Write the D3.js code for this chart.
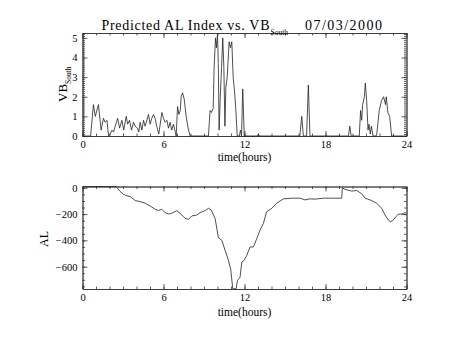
<!DOCTYPE html>
<html>
<head>
<meta charset="utf-8">
<script src="https://cdn.jsdelivr.net/npm/d3@7"></script>
<style>
  body { margin: 0; background: #fff; }
  svg { display: block; }
  text { font-family: "Liberation Serif", "DejaVu Serif", serif; fill: #000; }
</style>
</head>
<body>
<svg id="chart" width="454" height="341"></svg>
<script>
// Time axis ticks (hours)
const hourTicks = [0, 6, 12, 18, 24];
const hourMinor = d3.range(0, 25, 1);

// Southward IMF driver, VB_South (mV/m)
const vbTime = [0, 0.6, 0.81, 0.95, 1.18, 1.38, 1.55, 1.68, 1.81, 1.93, 2.05, 2.18, 2.3, 2.42, 2.6, 2.75,
  2.92, 3.05, 3.24, 3.34, 3.48, 3.63, 3.78, 3.9, 4.07, 4.17, 4.27, 4.4, 4.52, 4.64, 4.89, 5.01, 5.13,
  5.26, 5.38, 5.5, 5.65, 5.88, 6.0, 6.12, 6.25, 6.37, 6.49, 6.61, 6.74, 6.94, 7.04, 7.14, 7.24, 7.31,
  7.41, 7.53, 7.68, 7.82, 7.97, 9.33, 9.45, 9.55, 9.68, 9.75, 9.85, 9.92, 10.0, 10.06, 10.12, 10.2,
  10.3, 10.39, 10.47, 10.55, 10.62, 10.72, 10.86, 10.96, 11.06, 11.16, 11.26, 11.36, 11.46, 11.62,
  11.7, 11.78, 11.87, 11.98, 12.95, 13.03, 13.1, 16.1, 16.24, 16.36, 16.6, 16.73, 16.85, 19.7, 19.8,
  19.9, 20.5, 20.6, 20.68, 20.75, 20.88, 20.95, 21.05, 21.15, 21.22, 21.32, 21.4, 21.52, 21.75, 21.8,
  21.98, 22.15, 22.3, 22.45, 22.5, 22.62, 22.75, 22.9, 24];
const vbValue = [0, 0, 1.6, 1.0, 1.6, 0.3, 0.9, 0.7, 0.8, 0, 0.1, 0.3, 0.2, 0.5, 0.9, 0.4,
  0.8, 0.3, 1.0, 0.6, 0.8, 0.3, 0.7, 0.5, 0.4, 0.2, 0.7, 0.3, 0.8, 0.5, 1.1, 0.6, 0.9,
  1.1, 0.9, 0.5, 0.1, 1.2, 0.9, 0.7, 0.8, 0.4, 0.7, 0.3, 0.6, 0, 1.5, 1.1, 1.3, 2.0,
  2.2, 1.9, 1.0, 0.4, 0, 0, 1.3, 1.2, 1.4, 3.5, 5.0, 4.5, 5.2, 3.7, 0.3, 1.9,
  3.5, 5.0, 3.5, 0.5, 2.5, 3.0, 4.8, 4.5, 4.8, 3.0, 2.3, 1.3, 0, 0,
  0.3, 0, 2.4, 0, 0, 0.1, 0, 0, 1.0, 0, 0, 2.6, 0, 0, 0.5,
  0, 0, 1.3, 0.8, 1.6, 2.0, 2.7, 1.8, 0.3, 0.6, 0.1, 0.5, 0, 0, 0.1,
  1.3, 1.8, 2.0, 1.6, 2.0, 1.2, 1.0, 0, 0];
const vbTicks = [0, 1, 2, 3, 4, 5];

// Predicted AL index (nT)
const alTime = [0, 2.49, 2.79, 3.05, 3.29, 3.53, 3.9, 4.27, 4.64, 5.01, 5.38, 5.63, 5.87, 6.12, 6.37,
  6.61, 6.99, 7.36, 7.6, 7.85, 8.1, 8.47, 8.71, 9.08, 9.33, 9.53, 9.82, 10.07, 10.32, 10.56, 10.81,
  10.98, 11.13, 11.38, 11.48, 11.67, 11.8, 11.97, 12.17, 12.41, 12.66, 12.91, 13.15, 13.4, 13.64,
  14.02, 14.39, 14.88, 15.5, 16.12, 16.48, 16.86, 17.23, 17.84, 18.58, 19.2, 19.25, 19.45, 19.94,
  20.31, 20.68, 20.93, 21.3, 21.79, 22.16, 22.41, 22.65, 22.83, 23.02, 23.22, 23.39, 23.64, 23.89, 24];
const alValue = [10, 10, -28, -50, -61, -66, -97, -105, -117, -138, -163, -173, -163, -189, -199,
  -194, -173, -207, -232, -240, -214, -207, -189, -173, -156, -168, -232, -380, -399, -475, -552,
  -620, -768, -768, -706, -680, -565, -552, -514, -450, -450, -386, -322, -271, -182,
  -156, -117, -84, -79, -79, -92, -84, -86, -79, -79, -79, 0, -12, -25,
  -20, -45, -79, -92, -117, -156, -207, -245, -258, -245, -220, -200, -199, -189, -194];
const alTicks = [0, -200, -400, -600];
const alMinor = d3.range(0, -801, -50);

const svg = d3.select("#chart");
const left = 82.5, right = 406.5;

const x = d3.scaleLinear().domain([0, 24]).range([left, right]);

// Framed panel: ticks pointing inward on all four sides
function frame(g, xs, ys, yMajor, yMinor, top, bottom) {
  const major = 5, minor = 2.5;
  g.append("g").attr("transform", `translate(0,${bottom})`)
    .call(d3.axisBottom(xs).tickValues(hourMinor).tickSize(-minor).tickSizeOuter(0).tickFormat(""));
  g.append("g").attr("transform", `translate(0,${bottom})`)
    .call(d3.axisBottom(xs).tickValues(hourTicks).tickSize(-major).tickSizeOuter(0).tickPadding(5).tickFormat(d3.format("d")));
  g.append("g").attr("transform", `translate(0,${top})`)
    .call(d3.axisTop(xs).tickValues(hourMinor).tickSize(-minor).tickSizeOuter(0).tickFormat(""));
  g.append("g").attr("transform", `translate(0,${top})`)
    .call(d3.axisTop(xs).tickValues(hourTicks).tickSize(-major).tickSizeOuter(0).tickFormat(""));
  g.append("g").attr("transform", `translate(${left},0)`)
    .call(d3.axisLeft(ys).tickValues(yMinor).tickSize(-minor).tickSizeOuter(0).tickFormat(""));
  g.append("g").attr("transform", `translate(${left},0)`)
    .call(d3.axisLeft(ys).tickValues(yMajor).tickSize(-major).tickSizeOuter(0).tickPadding(5).tickFormat(d3.format("d")));
  g.append("g").attr("transform", `translate(${right},0)`)
    .call(d3.axisRight(ys).tickValues(yMinor).tickSize(-minor).tickSizeOuter(0).tickFormat(""));
  g.append("g").attr("transform", `translate(${right},0)`)
    .call(d3.axisRight(ys).tickValues(yMajor).tickSize(-major).tickSizeOuter(0).tickFormat(""));
  g.selectAll(".domain, .tick line").attr("stroke", "#333").attr("stroke-width", 0.8);
  g.selectAll(".tick text").attr("font-size", 10.5).attr("fill", "#000");
  g.selectAll("g").attr("font-family", null);
}

// ---- Top panel: VB_South
const top1 = 33, bot1 = 136;
const y1 = d3.scaleLinear().domain([0, 5.25]).range([bot1, top1]);
const g1 = svg.append("g");
frame(g1, x, y1, vbTicks, d3.range(0, 5.21, 0.1), top1, bot1);
g1.append("path")
  .datum(d3.range(vbTime.length))
  .attr("fill", "none").attr("stroke", "#222").attr("stroke-width", 0.8)
  .attr("d", d3.line().x(i => x(vbTime[i])).y(i => y1(vbValue[i])));

// ---- Bottom panel: AL
const top2 = 186.5, bot2 = 289;
const y2 = d3.scaleLinear().domain([-770, 10]).range([bot2, top2]);
const g2 = svg.append("g");
frame(g2, x, y2, alTicks, alMinor.filter(v => v >= -770), top2, bot2);
g2.append("path")
  .datum(d3.range(alTime.length))
  .attr("fill", "none").attr("stroke", "#222").attr("stroke-width", 0.8)
  .attr("d", d3.line().x(i => x(alTime[i])).y(i => y2(alValue[i])));

// ---- Titles and axis labels
svg.append("text").attr("x", 101.5).attr("y", 29.5).attr("font-size", 14)
  .attr("textLength", 168).attr("lengthAdjust", "spacing").text("Predicted AL Index vs. VB");
svg.append("text").attr("x", 270.5).attr("y", 34.5).attr("font-size", 7.5)
  .text("South");
svg.append("text").attr("x", 305).attr("y", 29.5).attr("font-size", 14)
  .attr("textLength", 77).attr("lengthAdjust", "spacing").text("07/03/2000");

svg.append("text").attr("x", 244.5).attr("y", 160.5).attr("font-size", 11.5)
  .attr("text-anchor", "middle").text("time(hours)");
svg.append("text").attr("x", 244.5).attr("y", 315.5).attr("font-size", 11.5)
  .attr("text-anchor", "middle").text("time(hours)");

const vbLab = svg.append("text").attr("transform", "translate(66.5,102) rotate(-90)").attr("font-size", 13);
vbLab.append("tspan").text("VB");
vbLab.append("tspan").attr("dy", 4).attr("font-size", 7.5).text("South");

svg.append("text").attr("transform", "translate(48,239) rotate(-90)").attr("font-size", 12)
  .attr("text-anchor", "middle").text("AL");
</script>
</body>
</html>
